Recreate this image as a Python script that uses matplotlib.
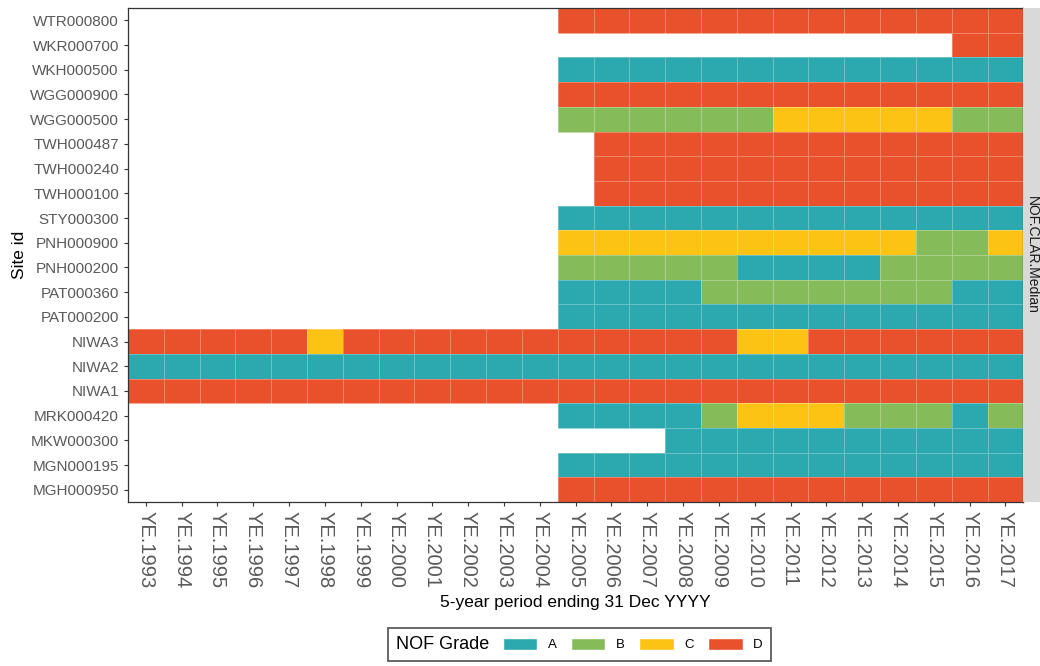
import numpy as np
import matplotlib
matplotlib.use("Agg")
import matplotlib.pyplot as plt
from matplotlib.colors import ListedColormap
from matplotlib.patches import Patch
from matplotlib.offsetbox import HPacker

plt.rcParams['font.family'] = ['Liberation Sans', 'DejaVu Sans']

years = [f"YE.{y}" for y in range(1993, 2018)]
grades = ["A", "B", "C", "D"]
grade_colours = ["#2CA9AE", "#86BB5A", "#FDC314", "#E8512C"]

# sites listed top to bottom; each row is the grade per year 1993..2017 ('' = no data)
sites = ["WTR000800", "WKR000700", "WKH000500", "WGG000900", "WGG000500",
         "TWH000487", "TWH000240", "TWH000100", "STY000300", "PNH000900",
         "PNH000200", "PAT000360", "PAT000200", "NIWA3", "NIWA2", "NIWA1",
         "MRK000420", "MKW000300", "MGN000195", "MGH000950"]

pre = [""] * 12  # 1993-2004 missing for most sites
site_grades = {
    "WTR000800": pre + list("DDDDDDDDDDDDD"),
    "WKR000700": pre + [""] * 11 + list("DD"),
    "WKH000500": pre + list("AAAAAAAAAAAAA"),
    "WGG000900": pre + list("DDDDDDDDDDDDD"),
    "WGG000500": pre + list("BBBBBBCCCCCBB"),
    "TWH000487": pre + [""] + list("DDDDDDDDDDDD"),
    "TWH000240": pre + [""] + list("DDDDDDDDDDDD"),
    "TWH000100": pre + [""] + list("DDDDDDDDDDDD"),
    "STY000300": pre + list("AAAAAAAAAAAAA"),
    "PNH000900": pre + list("CCCCCCCCCCBBC"),
    "PNH000200": pre + list("BBBBBAAAABBBB"),
    "PAT000360": pre + list("AAAABBBBBBBAA"),
    "PAT000200": pre + list("AAAAAAAAAAAAA"),
    "NIWA3": list("DDDDDCDDDDDDDDDDDCCDDDDDD"),
    "NIWA2": list("AAAAAAAAAAAAAAAAAAAAAAAAA"),
    "NIWA1": list("DDDDDDDDDDDDDDDDDDDDDDDDD"),
    "MRK000420": pre + list("AAAABCCCBBBAB"),
    "MKW000300": pre + ["", "", ""] + list("AAAAAAAAAA"),
    "MGN000195": pre + list("AAAAAAAAAAAAA"),
    "MGH000950": pre + list("DDDDDDDDDDDDD"),
}

grid = np.full((len(sites), len(years)), np.nan)
for i, s in enumerate(sites):
    for j, g in enumerate(site_grades[s]):
        if g:
            grid[i, j] = grades.index(g)

fig = plt.figure(figsize=(10.4, 6.66), dpi=100)
ax = fig.add_axes([0.123, 0.246, 0.861, 0.742])

ax.pcolormesh(np.ma.masked_invalid(grid), cmap=ListedColormap(grade_colours),
              vmin=-0.5, vmax=3.5, edgecolors=(1, 1, 1, 0.3), linewidth=0.6)
ax.set_xlim(0, len(years))
ax.set_ylim(len(sites), 0)

ax.set_xticks(np.arange(len(years)) + 0.5)
ax.set_xticklabels(years, rotation=270, va="top", ha="center",
                   fontsize=14.5, color="#595959")
ax.set_yticks(np.arange(len(sites)) + 0.5)
ax.set_yticklabels(sites, fontsize=11, color="#595959")
ax.tick_params(length=3, color="#333333", width=0.8)
for sp in ax.spines.values():
    sp.set_color("#333333")
    sp.set_linewidth(0.9)

ax.set_xlabel("5-year period ending 31 Dec YYYY", fontsize=12.5, labelpad=5)
ax.set_ylabel("Site id", fontsize=12.5, labelpad=2)

# facet strip on the right
strip = fig.add_axes([0.984, 0.246, 0.03, 0.742])
strip.set_facecolor("#D9D9D9")
strip.set_xticks([])
strip.set_yticks([])
for sp in strip.spines.values():
    sp.set_visible(False)
strip.text(0.28, 0.5, "NOF.CLAR.Median", rotation=270, ha="center", va="center",
           fontsize=10, color="#1A1A1A", transform=strip.transAxes)

handles = [Patch(facecolor=c, edgecolor="white", label=g)
           for g, c in zip(grades, grade_colours)]
leg = fig.legend(handles=handles, loc="center", bbox_to_anchor=(0.557, 0.032),
                 ncol=4, frameon=True, fontsize=9.5, title="NOF Grade",
                 title_fontsize=13, handlelength=2.6, handleheight=1.0,
                 columnspacing=1.1, handletextpad=0.8, borderpad=0.6,
                 fancybox=False, edgecolor="#333333")
# put the title on the same line as the keys
title_box = leg._legend_title_box
body = leg._legend_handle_box
leg._legend_box._children = [HPacker(children=[title_box, body], pad=0, sep=10,
                                      align="center")]
leg.get_frame().set_linewidth(1.3)

fig.savefig("out.png", dpi=100)
